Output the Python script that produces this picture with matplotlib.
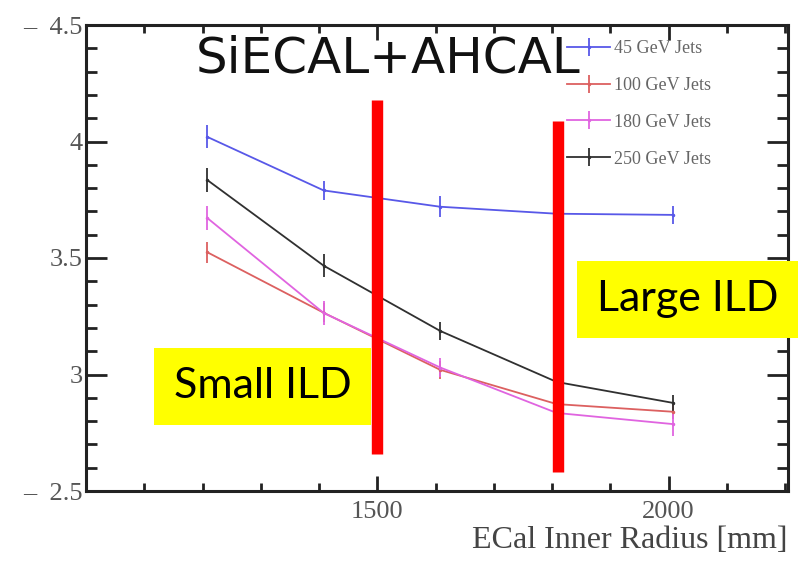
import matplotlib
matplotlib.use("Agg")
import matplotlib.pyplot as plt
from matplotlib.patches import Rectangle
from matplotlib.ticker import MultipleLocator, FixedLocator, FixedFormatter

# ECal inner radius scan points [mm]
radius = [1208, 1408, 1608, 1808, 2008]

# jet energy resolution per jet energy
res_45 = [4.02, 3.79, 3.72, 3.69, 3.685]
err_45 = [0.05, 0.04, 0.045, 0.04, 0.04]
res_100 = [3.525, 3.265, 3.02, 2.873, 2.84]
err_100 = [0.045, 0.04, 0.04, 0.03, 0.03]
res_180 = [3.672, 3.264, 3.03, 2.835, 2.787]
err_180 = [0.05, 0.05, 0.04, 0.04, 0.05]
res_250 = [3.835, 3.467, 3.187, 2.968, 2.878]
err_250 = [0.05, 0.05, 0.04, 0.03, 0.035]

labels = ["45 GeV Jets", "100 GeV Jets", "180 GeV Jets", "250 GeV Jets"]
colors = ["#5858e8", "#dc6060", "#e064e0", "#303030"]

# red dividers between detector sizes
divider_x = [1500, 1810]
divider_lo = [2.66, 2.58]
divider_hi = [4.18, 4.09]

W, H = 798, 572
fig = plt.figure(figsize=(W / 100, H / 100), dpi=100)
ax = fig.add_axes([86 / W, 1 - 491 / H, 702 / W, 466 / H])

series = [(res_45, err_45), (res_100, err_100), (res_180, err_180), (res_250, err_250)]
for (vals, errs), lab, col in zip(series, labels, colors):
    ax.errorbar(radius, vals, yerr=errs, color=col, lw=1.3, elinewidth=1.3,
                capsize=0, marker='.', ms=3, label=lab)

for x, lo, hi in zip(divider_x, divider_lo, divider_hi):
    ax.plot([x, x], [lo, hi], color='red', lw=8.2, solid_capstyle='butt', zorder=5)

ax.set_xlim(1000, 2205)
ax.set_ylim(2.5, 4.5)

serif = "Liberation Serif"
ax.xaxis.set_major_locator(FixedLocator([1500, 2000]))
ax.xaxis.set_minor_locator(MultipleLocator(100))
ax.yaxis.set_major_locator(FixedLocator([2.5, 3, 3.5, 4, 4.5]))
ax.yaxis.set_major_formatter(FixedFormatter(["\u2013  2.5", "3", "3.5", "4", "\u2013  4.5"]))
ax.yaxis.set_minor_locator(MultipleLocator(0.1))
ax.tick_params(which='both', direction='in', top=True, right=True, color='#222')
ax.tick_params(axis='y', which='major', length=15, width=2)
ax.tick_params(axis='y', which='minor', length=8, width=2)
ax.tick_params(axis='x', which='major', length=11, width=2)
ax.tick_params(axis='x', which='minor', length=6, width=2)
ax.tick_params(axis='y', labelsize=19, labelcolor='#555', pad=2.5)
ax.tick_params(axis='x', labelsize=19, labelcolor='#555', pad=7)
for lab in ax.get_xticklabels() + ax.get_yticklabels():
    lab.set_family(serif)
for sp in ax.spines.values():
    sp.set_linewidth(2.2)
    sp.set_color('#222')

ax.set_xlabel("ECal Inner Radius [mm]", family=serif, fontsize=23, color='#444',
              loc='right', labelpad=2)

ax.text(0.43, 0.899, "SiECAL+AHCAL", transform=ax.transAxes, ha='center',
        va='baseline', fontsize=36, family="DejaVu Sans", color='#111', zorder=6)

leg = ax.legend(loc='upper left', bbox_to_anchor=(567 / W, 1 - 40 / H),
                bbox_transform=fig.transFigure, frameon=False, borderpad=0,
                borderaxespad=0, handlelength=2.4, handletextpad=0.2,
                labelspacing=1.1, prop={'family': serif, 'size': 13})
for t in leg.get_texts():
    t.set_color('#666')

# yellow region labels
boxes = [(154, 348, 217, 77, "Small ILD"), (577, 261, 221, 77, "Large ILD")]
for x0, y0, w, h, txt in boxes:
    fig.add_artist(Rectangle((x0 / W, 1 - (y0 + h) / H), w / W, h / H,
                             transform=fig.transFigure, facecolor='#ffff00',
                             edgecolor='none', zorder=3))
    fig.text((x0 + w / 2) / W, 1 - (y0 + h / 2) / H, txt, ha='center', va='center',
             fontsize=31, family="Lato", color='black', zorder=4)

fig.savefig("out.png", dpi=100)
